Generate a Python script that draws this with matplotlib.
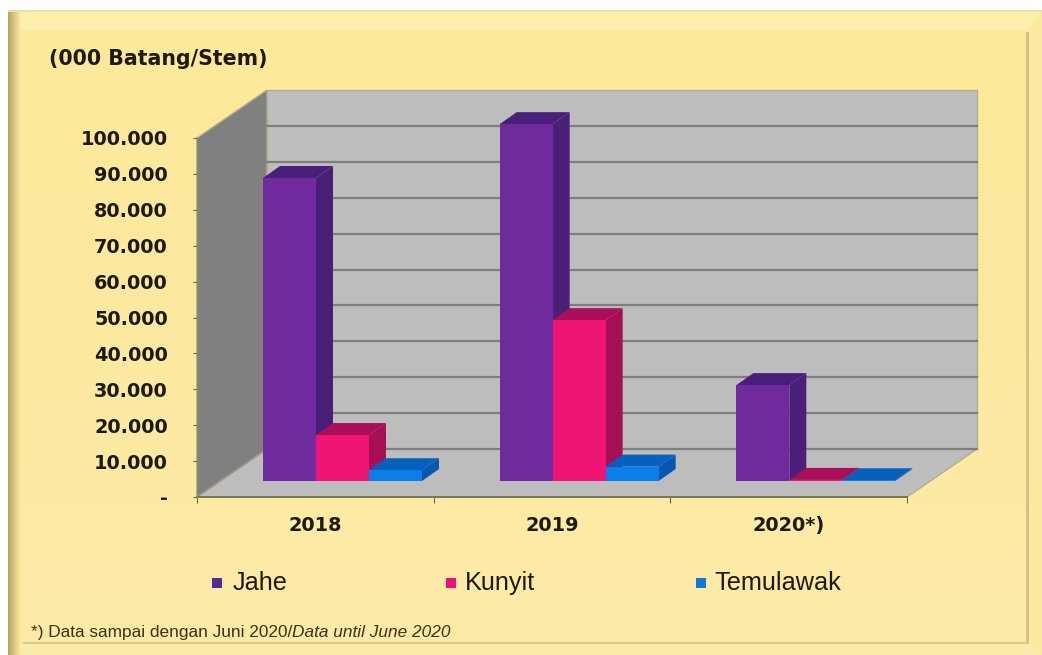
import numpy as np
import matplotlib
matplotlib.use("Agg")
import matplotlib.pyplot as plt
from matplotlib.patches import Polygon, Rectangle

plt.rcParams["font.family"] = ["Liberation Sans", "DejaVu Sans"]

# data, in thousand stems
years = ["2018", "2019", "2020*)"]
jahe = [84400, 99400, 26700]
kunyit = [12800, 44800, 300]
temulawak = [3000, 4000, 200]
series_names = ["Jahe", "Kunyit", "Temulawak"]
y_ticks = [0, 10000, 20000, 30000, 40000, 50000, 60000, 70000, 80000, 90000, 100000]
y_labels = ["-", "10.000", "20.000", "30.000", "40.000", "50.000", "60.000", "70.000", "80.000", "90.000", "100.000"]

front_colors = ["#6F2A9E", "#EE1577", "#0A7FEA"]
top_colors = ["#4A1F7C", "#A80F58", "#0560BE"]
side_colors = ["#4A1F78", "#A50F55", "#0558B0"]
legend_colors = ["#54289A", "#E8127A", "#0C78E0"]
text_color = "#1E1A0E"
bold_font = "DejaVu Sans"

W, H = 1042, 655
fig = plt.figure(figsize=(W / 100, H / 100), dpi=100, facecolor="white")

# picture frame, pixel coordinates
bg = fig.add_axes([0, 0, 1, 1])
bg.axis("off")
bg.add_patch(Rectangle((8, 10), 1034, 645, fc="#FCEB9F", ec="none"))
glow = np.linspace(0, 1, 100).reshape(-1, 1)
bg.imshow(np.dstack([np.full_like(glow, 0.99), 0.915 + 0.005 * glow, 0.60 + 0.06 * glow]),
          extent=(24, 1028, 643, 30), aspect="auto", zorder=1)
edge = np.linspace(0, 1, 40).reshape(1, -1)
bg.imshow(np.dstack([0.72 + 0.26 * edge, 0.64 + 0.26 * edge, 0.39 + 0.23 * edge]),
          extent=(8, 20, 655, 12), aspect="auto", zorder=3)
bg.set_xlim(0, W)
bg.set_ylim(H, 0)
bg.add_patch(Polygon([(8, 10), (1042, 10), (1028, 30), (24, 30)], fc="#FDEFAE", ec="none", zorder=2))
bg.add_patch(Polygon([(8, 655), (24, 643), (1028, 643), (1042, 655)], fc="#FBEBAA", ec="none", zorder=2))
bg.add_patch(Polygon([(1042, 10), (1028, 30), (1028, 643), (1042, 655)], fc="#FDE9A2", ec="none", zorder=2))
bg.add_patch(Rectangle((8, 10), 1034, 2, fc="#F3DFA0", ec="none", zorder=3))
bg.add_patch(Rectangle((1026, 32), 2.5, 611, fc="#D4C283", ec="none", zorder=3))
bg.plot([24, 1028], [642.5, 642.5], color="#DCCB8A", lw=1.5, zorder=3)

# axes spans the front plane of the 3d box
left, right, top, bottom = 197, 907, 138, 497
ax = fig.add_axes([left / W, 1 - bottom / H, (right - left) / W, (bottom - top) / H])
ax.set_xlim(0, 3)
ax.set_ylim(0, 100000)
ax.patch.set_alpha(0)
for s in ax.spines.values():
    s.set_visible(False)
px = 3 / (right - left)
py = 100000 / (bottom - top)

depth_x, depth_y = 70 * px, 48 * py
ymax = y_ticks[-1]

# walls and floor
ax.add_patch(Polygon([(depth_x, depth_y), (3 + depth_x, depth_y), (3 + depth_x, ymax + depth_y), (depth_x, ymax + depth_y)],
                     fc="#BDBDBD", ec="#B4AE8C", lw=1, clip_on=False, zorder=1))
ax.add_patch(Polygon([(0, 0), (depth_x, depth_y), (depth_x, ymax + depth_y), (0, ymax)],
                     fc="#808080", ec="#B4AE8C", lw=1, clip_on=False, zorder=1))
ax.add_patch(Polygon([(0, 0), (3, 0), (3 + depth_x, depth_y), (depth_x, depth_y)],
                     fc="#BDBDBD", ec="#B4AE8C", lw=1, clip_on=False, zorder=1))
for t in y_ticks[1:-1] + [0]:
    ax.plot([depth_x, 3 + depth_x], [t + depth_y, t + depth_y], color="#7E7E7E", lw=1.6, clip_on=False, zorder=2)
    ax.plot([0, depth_x], [t, t + depth_y], color="#868686", lw=0.6, clip_on=False, zorder=2)

# bars, front face plus top and side faces
bar_w = 53 * px
bar_dx, bar_dy = 17 * px, 12 * py
base = 16 * py
start = 66 * px
all_series = [jahe, kunyit, temulawak]
for j, vals in enumerate(all_series):
    for i, v in enumerate(vals):
        x0 = i + start + j * bar_w
        z = 10 + j + i * 5
        y1 = base + v
        ax.bar(x0, v, bar_w, bottom=base, align="edge", color=front_colors[j], clip_on=False, zorder=z + 0.03)
        ax.add_patch(Polygon([(x0 + bar_w, base), (x0 + bar_w + bar_dx, base + bar_dy),
                              (x0 + bar_w + bar_dx, y1 + bar_dy), (x0 + bar_w, y1)],
                             fc=side_colors[j], ec="none", clip_on=False, zorder=z + 0.01))
        ax.add_patch(Polygon([(x0, y1), (x0 + bar_w, y1), (x0 + bar_w + bar_dx, y1 + bar_dy), (x0 + bar_dx, y1 + bar_dy)],
                             fc=top_colors[j], ec="none", clip_on=False, zorder=z + 0.02))

# axis lines, ticks and labels
ax.plot([0, 3], [0, 0], color="#6E6A48", lw=1.2, clip_on=False, zorder=30)
ax.plot([0, 0], [0, ymax], color="#8C8866", lw=1, clip_on=False, zorder=30)
ax.set_xticks([0, 1, 2, 3])
ax.set_xticklabels([])
ax.set_yticks(y_ticks)
ax.set_yticklabels(y_labels, fontsize=13.9, fontweight="bold", family=bold_font, color=text_color)
ax.tick_params(axis="x", length=4, width=0.8, color="#6E6A48", direction="out")
ax.tick_params(axis="y", length=3, width=0.8, color="#6E6A48", direction="out", pad=18)
for i, year in enumerate(years):
    ax.annotate(year, (i + 0.5, 0), xytext=(0, -13.5), textcoords="offset points", ha="center", va="top",
                fontsize=13.9, fontweight="bold", family=bold_font, color=text_color, annotation_clip=False)

# legend and notes, pixel coordinates
legend_sq = [212, 446, 696]
legend_tx = [233, 465, 714]
for name, sx, tx, c in zip(series_names, legend_sq, legend_tx, legend_colors):
    bg.add_patch(Rectangle((sx, 578), 10, 10, fc=c, ec="none", zorder=5))
    bg.text(tx, 583, name, fontsize=18.2, color=text_color, va="center", ha="left", zorder=5)

bg.text(49, 59, "(000 Batang/Stem)", fontsize=14.8, fontweight="bold", family=bold_font, color=text_color,
        va="center", zorder=5)
note = bg.text(31, 637, "*) Data sampai dengan Juni 2020/", fontsize=12.4, color="#3A3416", va="baseline", zorder=5)
bg.annotate("Data until June 2020", xy=(1, 0), xycoords=note, fontsize=12.4, style="italic", color="#3A3416",
            va="bottom", ha="left", zorder=5)

fig.savefig("out.png", dpi=100)
